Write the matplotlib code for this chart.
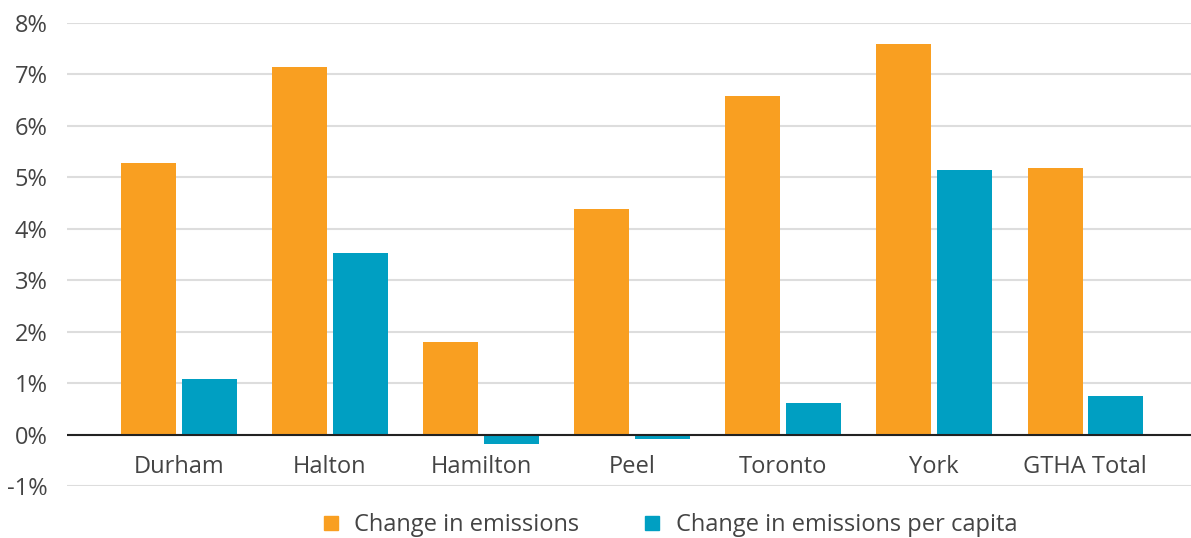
import matplotlib
matplotlib.use("Agg")
import matplotlib.pyplot as plt
from matplotlib.lines import Line2D
import numpy as np

categories = ["Durham", "Halton", "Hamilton", "Peel", "Toronto", "York", "GTHA Total"]
change_emissions = [5.27, 7.14, 1.79, 4.39, 6.58, 7.59, 5.18]
change_per_capita = [1.08, 3.52, -0.19, -0.09, 0.61, 5.14, 0.745]
series_labels = ["Change in emissions", "Change in emissions per capita"]
y_ticks = list(range(-1, 9))

ORANGE = "#F99F21"
TEAL = "#009FC2"
TEXT = "#444444"

plt.rcParams["font.family"] = ["Open Sans", "DejaVu Sans"]
FS = 17

fig = plt.figure(figsize=(11.91, 5.38), dpi=100)
ax = fig.add_axes([67 / 1191, 52 / 538, 1 - 67 / 1191, (486 - 23) / 538])

x = np.arange(len(categories))
w = 0.364
ax.bar(x - 0.2, change_emissions, width=w, color=ORANGE, zorder=2)
ax.bar(x + 0.2, change_per_capita, width=w, color=TEAL, zorder=2)

ax.set_xlim(-0.74, len(categories) - 1 + 0.70)
ax.set_ylim(-1, 8)
ax.set_yticks(y_ticks)
ax.set_yticklabels([f"{t}%" for t in y_ticks], fontsize=FS, color=TEXT)
ax.tick_params(axis="y", length=0, pad=14)
ax.set_xticks([])
ax.grid(axis="y", color="#dddddd", linewidth=1.5, zorder=0)
ax.axhline(0, color="#222222", linewidth=1.5, zorder=3)
for s in ax.spines.values():
    s.set_visible(False)

for i, c in enumerate(categories):
    ax.text(i, -0.64, c, ha="center", va="center", fontsize=FS, color=TEXT)

handles = [
    Line2D([], [], marker="s", linestyle="", markersize=10, color=ORANGE),
    Line2D([], [], marker="s", linestyle="", markersize=10, color=TEAL),
]
fig.legend(handles, series_labels, loc="center", bbox_to_anchor=(0.561, 0.024),
           ncol=2, frameon=False, fontsize=FS, labelcolor=TEXT,
           handletextpad=0.5, columnspacing=2.6, handlelength=1.0)

fig.savefig("out.png", dpi=100)
